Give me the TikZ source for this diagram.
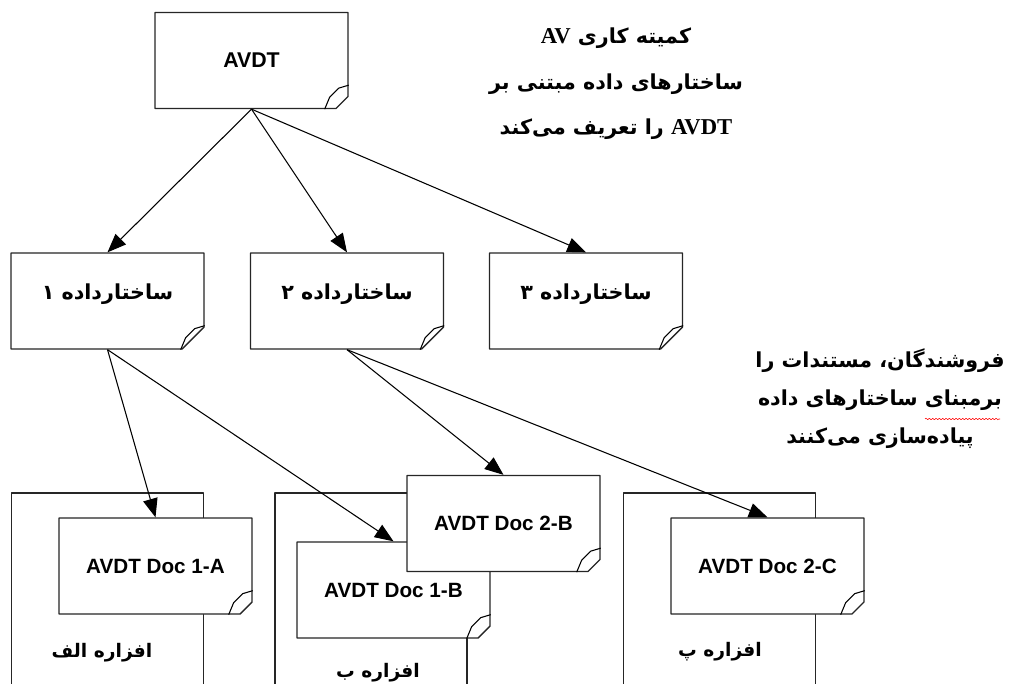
\documentclass[tikz,border=0pt]{standalone}
\usepackage{fontspec}
\setmainfont{Liberation Sans}
\newfontfamily\fafont[Script=Arabic]{DejaVu Sans}
\newfontfamily\timesb{Liberation Serif}
\usetikzlibrary{arrows.meta,shapes.misc,decorations.pathmorphing}
\TeXXeTstate=1
\def\px{0.75pt}
\newcommand\fa[1]{{\fafont\bfseries\beginR #1\endR}}
\newcommand\lat[1]{{\timesb\bfseries\fontsize{17}{20}\selectfont\beginL #1\endL}}
\tikzset{
  docbox/.style={chamfered rectangle, chamfered rectangle corners=south east,
    chamfered rectangle xsep=18pt, draw=black!85, line width=1pt, fill=white,
    minimum width=193*\px, minimum height=96*\px, inner sep=0pt,
    font=\bfseries\fontsize{15.5}{18}\selectfont},
  dsbox/.style={docbox, font=\fontsize{15.5}{18}\selectfont, text depth=14pt},
  devbox/.style={draw=black!85, line width=1pt, fill=white,
    minimum width=192*\px, minimum height=214*\px, inner sep=0pt},
  conn/.style={-{Triangle[length=14pt,width=11pt]}, line width=0.8pt},
  note/.style={align=center, font=\fontsize{15.5}{34}\selectfont},
  lbl/.style={font=\fontsize{14}{17}\selectfont}
}
\begin{document}
\begin{tikzpicture}[x=\px, y=-\px, line join=round]
\useasboundingbox (0,0) rectangle (1010,684);
\clip (0,0) rectangle (1010,684);
% AV-Komitee
\node[docbox, font=\bfseries\fontsize{16}{19}\selectfont] (avdt) at (251.5,60.5) {AVDT};
\node[note] (wg) at (616,84) {\fa{کمیته کاری \lat{AV}}\\
  \fa{ساختارهای داده مبتنی بر}\\
  \fa{\lat{AVDT} را تعریف می‌کند}};
% Datenstrukturen
\node[dsbox] (ds1) at (107.5,301) {\fa{ساختارداده ۱}};
\node[dsbox] (ds2) at (347,301) {\fa{ساختارداده ۲}};
\node[dsbox] (ds3) at (586,301) {\fa{ساختارداده ۳}};
\node[note, font=\fontsize{15.5}{28.5}\selectfont] (vend) at (880,399) {\fa{فروشندگان، مستندات را}\\
  \fa{برمبنای ساختارهای داده}\\
  \fa{پیاده‌سازی می‌کنند}};
\draw[red, line width=0.4pt, decorate, decoration={snake, amplitude=0.6pt, segment length=2.5pt}] (925,419) -- (1000,419);
% Geraete
\node[devbox] (devA) at (107.5,600) {};
\node[devbox] (devB) at (371,600) {};
\node[devbox] (devC) at (719.5,600) {};
\node[lbl] (devAl) at (102,653) {\fa{افزاره الف}};
\node[lbl] (devBl) at (378,673) {\fa{افزاره ب}};
\node[lbl] (devCl) at (720,652) {\fa{افزاره پ}};
% Dokumente
\node[docbox] (d1a) at (155.5,566) {AVDT Doc 1-A};
\node[docbox] (d1b) at (393.5,590) {AVDT Doc 1-B};
\node[docbox] (d2b) at (503.5,523.5) {AVDT Doc 2-B};
\node[docbox] (d2c) at (767.5,566) {AVDT Doc 2-C};
\foreach \n in {avdt,ds1,ds2,ds3,d1a,d1b,d2b,d2c}
  \draw[line width=0.8pt] (\n.east |- \n.south) ++(-24,0) -- ++(5,-12) -- ++(9,-9) -- ++(10,-3);
% Pfeile
\foreach \t in {ds1,ds2,ds3}
  \draw[conn] (avdt.south) -- (\t.north);
\draw[conn] (ds1.south) -- (d1a.north);
\draw[conn] (ds1.south) -- (d1b.north);
\draw[conn] (ds2.south) -- (d2b.north);
\draw[conn] (ds2.south) -- (d2c.north);
\end{tikzpicture}
\end{document}
